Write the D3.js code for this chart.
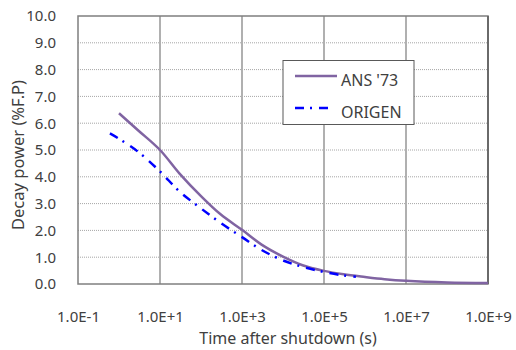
<!DOCTYPE html>
<html>
<head>
<meta charset="utf-8">
<script src="https://cdn.jsdelivr.net/npm/d3@7"></script>
<style>
  body { margin: 0; background: #fff; }
  text { font-family: "Noto Sans", "Open Sans", sans-serif; fill: #404040; }
</style>
</head>
<body>
<script>
// values
var ansTime   = [1, 3, 10, 30, 100, 300, 1e3, 3e3, 1e4, 3e4, 1e5, 3e5, 1e6, 3e6, 1e7, 1e8, 1e9];
var ansPower  = [6.37, 5.72, 5.0, 4.12, 3.28, 2.6, 2.02, 1.47, 1.02, 0.7, 0.49, 0.36, 0.26, 0.18, 0.12, 0.06, 0.04];
var origTime  = [0.6, 1, 3, 10, 30, 100, 300, 1e3, 3e3, 1e4, 3e4, 1e5, 3e5, 6e5];
var origPower = [5.62, 5.42, 4.92, 4.2, 3.45, 2.82, 2.28, 1.75, 1.27, 0.88, 0.64, 0.45, 0.32, 0.27];
var xTicks = [1e-1, 1e1, 1e3, 1e5, 1e7, 1e9];
var xTickLabels = ["1.0E-1", "1.0E+1", "1.0E+3", "1.0E+5", "1.0E+7", "1.0E+9"];
var yTicks = [0, 1, 2, 3, 4, 5, 6, 7, 8, 9, 10];
var seriesNames = ["ANS '73", "ORIGEN"];

var W = 516, H = 350;
var plotL = 78, plotT = 16, plotR = 488, plotB = 284;

var svg = d3.select("body").append("svg")
    .attr("width", W)
    .attr("height", H);

var x = d3.scaleLog().domain([1e-1, 1e9]).range([plotL, plotR]);
var y = d3.scaleLinear().domain([0, 10]).range([plotB, plotT]);

// horizontal dotted grid
svg.selectAll("line.hgrid")
    .data(yTicks.filter(function(d){ return d > 0 && d < 10; }))
    .enter().append("line")
    .attr("x1", plotL).attr("x2", plotR)
    .attr("y1", function(d){ return y(d); })
    .attr("y2", function(d){ return y(d); })
    .attr("stroke", "#a6a6a6")
    .attr("stroke-width", 1)
    .attr("stroke-dasharray", "1,1");

// vertical grid, every two decades
svg.selectAll("line.vgrid")
    .data(xTicks.slice(1, -1))
    .enter().append("line")
    .attr("x1", function(d){ return x(d); })
    .attr("x2", function(d){ return x(d); })
    .attr("y1", plotT).attr("y2", plotB)
    .attr("stroke", "#b0b0b0")
    .attr("stroke-width", 2);

// frame
svg.append("rect")
    .attr("x", plotL).attr("y", plotT)
    .attr("width", plotR - plotL).attr("height", plotB - plotT)
    .attr("fill", "none")
    .attr("stroke", "#7f7f7f")
    .attr("stroke-width", 1.5);
svg.append("line")
    .attr("x1", plotR).attr("x2", plotR).attr("y1", plotT).attr("y2", plotB)
    .attr("stroke", "#6a6a6a").attr("stroke-width", 2);

// axes text
var yAxis = d3.axisLeft(y).tickValues(yTicks).tickFormat(d3.format(".1f")).tickSize(0).tickPadding(22);
var gy = svg.append("g").attr("transform", "translate(" + plotL + ",0)").call(yAxis);
gy.select(".domain").remove();
gy.selectAll("text").style("font-size", "15px").style("fill", "#404040")
    .style("font-family", "'Noto Sans', sans-serif");

var xAxis = d3.axisBottom(x).tickValues(xTicks)
    .tickFormat(function(d, i){ return xTickLabels[i]; }).tickSize(0).tickPadding(27);
var gx = svg.append("g").attr("transform", "translate(0," + plotB + ")").call(xAxis);
gx.select(".domain").remove();
gx.selectAll("text").style("font-size", "15px").style("fill", "#404040")
    .style("font-family", "'Noto Sans', sans-serif");

svg.append("text")
    .attr("x", (plotL + plotR) / 2 + 5)
    .attr("y", 344)
    .attr("text-anchor", "middle")
    .style("font-size", "16px")
    .text("Time after shutdown (s)");

svg.append("text")
    .attr("transform", "translate(24,155) rotate(-90)")
    .attr("text-anchor", "middle")
    .style("font-size", "16.5px")
    .text("Decay power (%F.P)");

// lines
var line = d3.line()
    .x(function(d){ return x(d[0]); })
    .y(function(d){ return y(d[1]); })
    .curve(d3.curveCatmullRom.alpha(0.5));

svg.append("path")
    .datum(d3.zip(ansTime, ansPower))
    .attr("d", line)
    .attr("fill", "none")
    .attr("stroke", "#8064a2")
    .attr("stroke-width", 2.5);

svg.append("path")
    .datum(d3.zip(origTime, origPower))
    .attr("d", line)
    .attr("fill", "none")
    .attr("stroke", "#0000ff")
    .attr("stroke-width", 2.5)
    .attr("stroke-dasharray", "9,6,2,7");

// legend
var lg = svg.append("g");
lg.append("rect")
    .attr("x", 283).attr("y", 60.5)
    .attr("width", 131).attr("height", 64)
    .attr("fill", "#fff")
    .attr("stroke", "#595959")
    .attr("stroke-width", 1);
lg.append("line")
    .attr("x1", 295).attr("x2", 337).attr("y1", 76).attr("y2", 76)
    .attr("stroke", "#8064a2").attr("stroke-width", 2.5);
lg.append("line")
    .attr("x1", 295).attr("x2", 331).attr("y1", 108).attr("y2", 108)
    .attr("stroke", "#0000ff").attr("stroke-width", 2.5)
    .attr("stroke-dasharray", "9,6,2,7");
lg.selectAll("text.leg")
    .data(seriesNames)
    .enter().append("text")
    .attr("x", 341)
    .attr("y", function(d, i){ return 86 + i * 32; })
    .style("font-size", "16px")
    .text(function(d){ return d; });
</script>
</body>
</html>
